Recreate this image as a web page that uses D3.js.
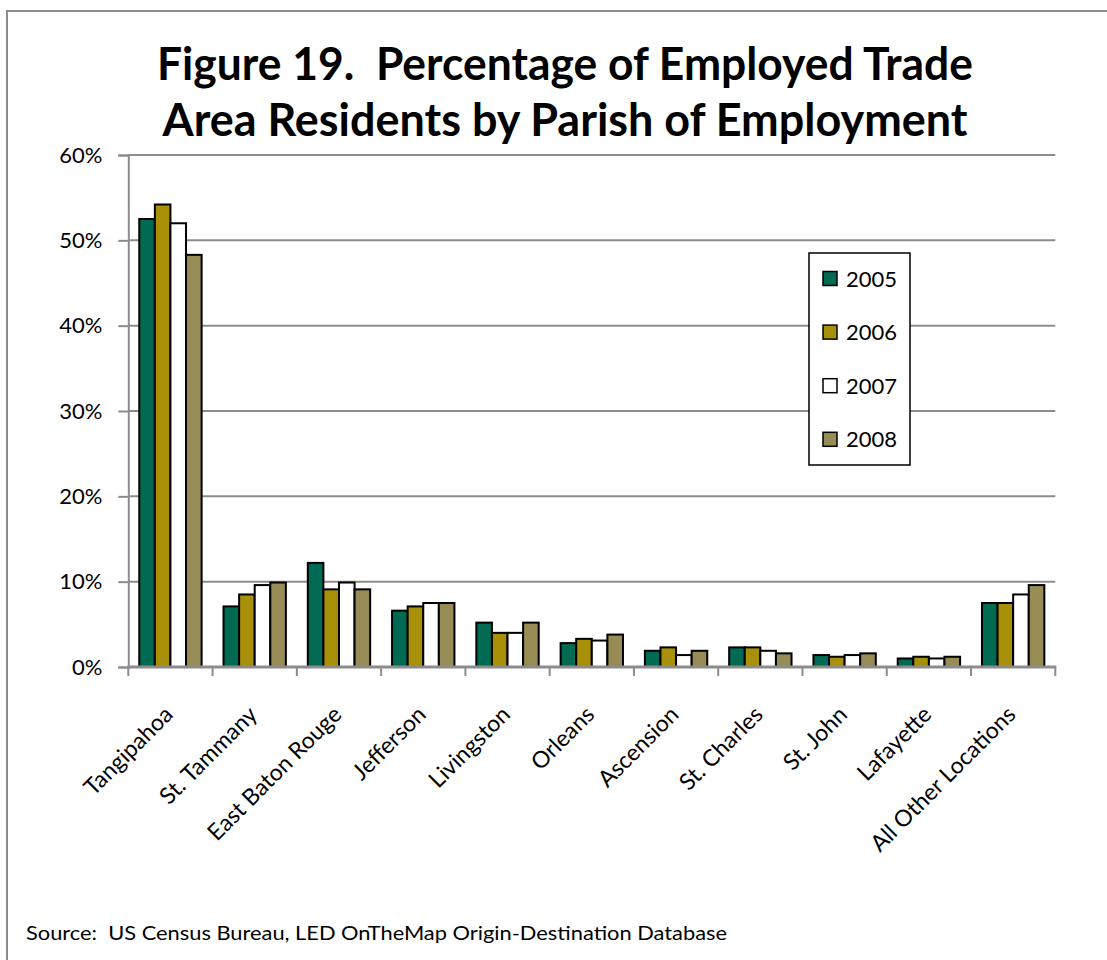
<!DOCTYPE html>
<html>
<head>
<meta charset="utf-8">
<script src="https://cdn.jsdelivr.net/npm/d3@7"></script>
<style>
  html, body { margin: 0; padding: 0; background: #ffffff; }
  svg { display: block; }
  text { font-family: Lato, "Noto Sans", sans-serif; fill: #000; white-space: pre; }
</style>
</head>
<body>
<svg id="chart" width="1107" height="960"></svg>
<script>
// Parishes where employed trade-area residents work
const categories = ["Tangipahoa", "St. Tammany", "East Baton Rouge", "Jefferson", "Livingston",
  "Orleans", "Ascension", "St. Charles", "St. John", "Lafayette", "All Other Locations"];

// Share of employed residents (%) by year
const years = ["2005", "2006", "2007", "2008"];
const v2005 = [52.5, 7.1, 12.2, 6.6, 5.2, 2.8, 1.9, 2.3, 1.4, 1.0, 7.5];
const v2006 = [54.2, 8.5, 9.1, 7.1, 4.0, 3.3, 2.3, 2.3, 1.2, 1.2, 7.5];
const v2007 = [52.0, 9.6, 9.9, 7.5, 4.0, 3.1, 1.4, 1.9, 1.4, 1.0, 8.5];
const v2008 = [48.3, 9.9, 9.1, 7.5, 5.2, 3.8, 1.9, 1.6, 1.6, 1.2, 9.6];

// Axis ticks
const yTicks = [0, 10, 20, 30, 40, 50, 60];
const yTickLabels = ["0%", "10%", "20%", "30%", "40%", "50%", "60%"];

const titleLines = ["Figure 19.  Percentage of Employed Trade", "Area Residents by Parish of Employment"];
const sourceNote = "Source:  US Census Bureau, LED OnTheMap Origin-Destination Database";

const seriesValues = [v2005, v2006, v2007, v2008];
const seriesColors = ["#006b52", "#a89008", "#ffffff", "#978c55"];

const rows = categories.map((c, i) => {
  const r = { category: c };
  years.forEach((y, k) => { r[y] = seriesValues[k][i]; });
  return r;
});

const svg = d3.select("#chart");

// outer frame
svg.append("rect")
  .attr("x", 7).attr("y", 11).attr("width", 1200).attr("height", 1000)
  .attr("fill", "none").attr("stroke", "#8c8c8c").attr("stroke-width", 2);

// title
const titleBase = [80, 136];
const titleWidth = [816, 805];
titleLines.forEach((t, i) => {
  svg.append("text")
    .attr("x", 565).attr("y", titleBase[i])
    .attr("text-anchor", "middle")
    .attr("font-size", 46).attr("font-weight", 700)
    .attr("textLength", titleWidth[i]).attr("lengthAdjust", "spacingAndGlyphs")
    .text(t);
});

// scales
const plot = { left: 128.3, right: 1055.3, top: 155, bottom: 667 };
const x = d3.scaleBand().domain(categories).range([plot.left, plot.right]).paddingInner(0).paddingOuter(0);
const gap = x.step() * 0.13;
const xs = d3.scaleBand().domain(years).range([gap, x.step() - gap]).padding(0);
const y = d3.scaleLinear().domain([0, 60]).range([plot.bottom, plot.top]);

// gridlines
svg.append("g")
  .selectAll("line").data(yTicks.filter(d => d > 0)).join("line")
  .attr("x1", plot.left).attr("x2", plot.right)
  .attr("y1", d => y(d)).attr("y2", d => y(d))
  .attr("stroke", "#8c8c8c").attr("stroke-width", 2);

// y axis
const yAxis = svg.append("g")
  .attr("transform", `translate(${plot.left},0)`)
  .call(d3.axisLeft(y).tickValues(yTicks).tickSize(10).tickPadding(16)
    .tickFormat((d, i) => yTickLabels[i]));
yAxis.select(".domain").attr("stroke", "#8c8c8c").attr("stroke-width", 2);
yAxis.selectAll(".tick line").attr("stroke", "#8c8c8c").attr("stroke-width", 2);
yAxis.selectAll(".tick text")
  .attr("font-family", "Lato, 'Noto Sans', sans-serif")
  .attr("font-size", 22).attr("fill", "#000");

// bars
const groups = svg.append("g").selectAll("g").data(rows).join("g")
  .attr("transform", d => `translate(${x(d.category)},0)`);
groups.selectAll("rect")
  .data(d => years.map((yr, k) => ({ year: yr, k, value: d[yr] })))
  .join("rect")
  .attr("x", d => xs(d.year))
  .attr("width", xs.bandwidth())
  .attr("y", d => y(d.value))
  .attr("height", d => y(0) - y(d.value))
  .attr("fill", d => seriesColors[d.k])
  .attr("stroke", "#000").attr("stroke-width", 2);

// x axis with boundary ticks
const xAxisG = svg.append("g").attr("transform", `translate(0,${plot.bottom})`);
xAxisG.append("line")
  .attr("x1", plot.left - 1).attr("x2", plot.right + 1)
  .attr("stroke", "#8c8c8c").attr("stroke-width", 3);
const boundaries = categories.map(c => x(c)).concat([plot.right]);
xAxisG.selectAll("line.tick").data(boundaries).join("line")
  .attr("class", "tick")
  .attr("x1", d => d).attr("x2", d => d)
  .attr("y1", 0).attr("y2", 9)
  .attr("stroke", "#8c8c8c").attr("stroke-width", 2);

// rotated category labels
svg.append("g").selectAll("text").data(categories).join("text")
  .attr("transform", d => `translate(${x(d) + x.bandwidth() / 2 + 4},716) rotate(-45)`)
  .attr("text-anchor", "end")
  .attr("font-size", 23)
  .text(d => d);

// legend
const legend = svg.append("g").attr("transform", "translate(809,253)");
legend.append("rect")
  .attr("width", 101).attr("height", 212)
  .attr("fill", "#fff").attr("stroke", "#000").attr("stroke-width", 1.5);
const items = legend.selectAll("g").data(years).join("g")
  .attr("transform", (d, i) => `translate(14,${25.5 + i * 53.6})`);
items.append("rect")
  .attr("x", 0).attr("y", -7).attr("width", 14).attr("height", 14)
  .attr("fill", (d, i) => seriesColors[i]).attr("stroke", "#000").attr("stroke-width", 1.5);
items.append("text")
  .attr("x", 23).attr("y", 8)
  .attr("font-size", 22)
  .text(d => d);

// source note
svg.append("text")
  .attr("x", 26).attr("y", 940)
  .attr("font-size", 19)
  .attr("textLength", 701).attr("lengthAdjust", "spacingAndGlyphs")
  .text(sourceNote);
</script>
</body>
</html>
